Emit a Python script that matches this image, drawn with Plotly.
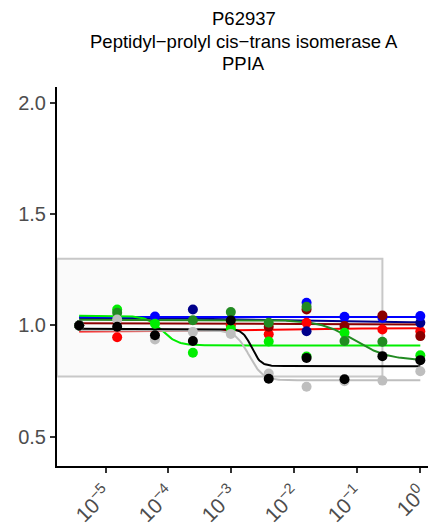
import numpy as np
import plotly.graph_objects as go

# ---- data ----
conc = [3.81e-6, 1.53e-5, 6.10e-5, 2.44e-4, 9.77e-4, 3.91e-3, 1.56e-2, 6.25e-2, 0.25, 1.0]

series_names = ["red", "navy", "blue", "darkred", "green", "darkgreen", "gray", "black"]
series_colors = ["#FF0000", "#00008B", "#0000FF", "#8B0000", "#00EE00", "#228B22", "#BEBEBE", "#000000"]

red_vals       = [1.0, 0.947, None, None, 1.000, 0.960, 1.012, None, 0.982, 0.974]
navy_vals      = [1.0, None, None, 1.072, None, None, 0.974, None, None, 1.012]
blue_vals      = [1.0, None, 1.040, None, None, None, 1.102, 1.039, 1.035, 1.042]
darkred_vals   = [1.0, None, None, None, None, 0.994, 1.072, 0.997, 1.045, 0.952]
green_vals     = [1.0, 1.072, 1.008, 0.877, 0.985, 0.928, 0.860, 0.967, None, 0.866]
darkgreen_vals = [1.0, 1.057, None, 1.023, 1.060, 1.012, 1.084, 0.930, 0.927, None]
gray_vals      = [1.0, 1.027, 0.937, 0.971, 0.962, 0.784, 0.724, 0.749, 0.752, 0.794]
black_vals     = [1.0, 0.994, 0.956, 0.930, 1.022, 0.760, 0.854, 0.758, 0.862, 0.844]

series_vals = [red_vals, navy_vals, blue_vals, darkred_vals,
               green_vals, darkgreen_vals, gray_vals, black_vals]

# fitted log-logistic curve parameters (top, bottom, log10 EC50, hill)
fit_top    = [0.972, 1.034, 1.038, 1.010, 1.043, 1.025, 0.978, 0.985]
fit_bottom = [0.988, 1.014, 1.038, 1.004, 0.910, 0.843, 0.753, 0.817]
fit_logec  = [-2.7, -2.5, -2.5, -2.0, -4.10, -1.05, -2.72, -2.68]
fit_hill   = [0.5, 0.6, 1.0, 1.0, 3.5, 1.6, 4.0, 6.0]

# reference box
box_x1 = 0.25
box_y0 = 0.77
box_y1 = 1.30

title_lines = ["P62937", "Peptidyl\u2212prolyl cis\u2212trans isomerase A", "PPIA"]

x_tickvals = [1e-5, 1e-4, 1e-3, 1e-2, 1e-1, 1e0]
x_ticktext = ["10<sup>\u22125</sup>", "10<sup>\u22124</sup>", "10<sup>\u22123</sup>",
              "10<sup>\u22122</sup>", "10<sup>\u22121</sup>", "10<sup>0</sup>"]
y_tickvals = [0.5, 1.0, 1.5, 2.0]
y_ticktext = ["0.5", "1.0", "1.5", "2.0"]

x_range_log = [-5.771, 0.154]
y_range = [0.368, 2.072]

# ---- figure ----
fig = go.Figure()

lx = np.linspace(np.log10(conc[0]), np.log10(conc[-1]), 300)
for name, col, top, bot, ec, h in zip(series_names, series_colors, fit_top, fit_bottom, fit_logec, fit_hill):
    yy = bot + (top - bot) / (1.0 + 10 ** (h * (lx - ec)))
    fig.add_trace(go.Scatter(x=10 ** lx, y=yy, mode="lines",
                             line=dict(color=col, width=2), showlegend=False, hoverinfo="skip"))

for name, col, vals in zip(series_names, series_colors, series_vals):
    fig.add_trace(go.Scatter(x=conc, y=vals, mode="markers",
                             marker=dict(color=col, size=10, line=dict(width=0)),
                             showlegend=False, name=name))

fig.add_shape(type="rect", xref="x", yref="y",
              x0=10 ** x_range_log[0], x1=box_x1, y0=box_y0, y1=box_y1,
              fillcolor="#FAFAFA", line=dict(color="#C8C8C8", width=2), layer="below")

plot_h = 518 - 79 - 60
for i, t in enumerate(title_lines):
    fig.add_annotation(text=t, xref="paper", yref="paper", x=0.5, y=1 + (69 - 23 * i) / plot_h,
                       yanchor="middle", xanchor="center", showarrow=False,
                       font=dict(family="Liberation Sans, Arial, sans-serif", size=18.5, color="#000000"))

fig.update_layout(
    width=428, height=518,
    margin=dict(l=49, r=6, t=79, b=60, autoexpand=False),
    paper_bgcolor="white", plot_bgcolor="white",
    font=dict(family="Liberation Sans, Arial, sans-serif"),
)
fig.update_xaxes(type="log", range=x_range_log, tickvals=x_tickvals, ticktext=x_ticktext,
                 tickangle=-45, showgrid=False, zeroline=False, showline=True,
                 linecolor="black", linewidth=2, ticks="outside", ticklen=5, tickwidth=2,
                 tickcolor="#333333", tickfont=dict(size=21, color="#4D4D4D"))
fig.update_yaxes(range=y_range, tickvals=y_tickvals, ticktext=y_ticktext,
                 showgrid=False, zeroline=False, showline=True,
                 linecolor="black", linewidth=2, ticks="outside", ticklen=5, tickwidth=2,
                 tickcolor="#333333", tickfont=dict(size=20, color="#4D4D4D"))

fig.write_html("out.html")
